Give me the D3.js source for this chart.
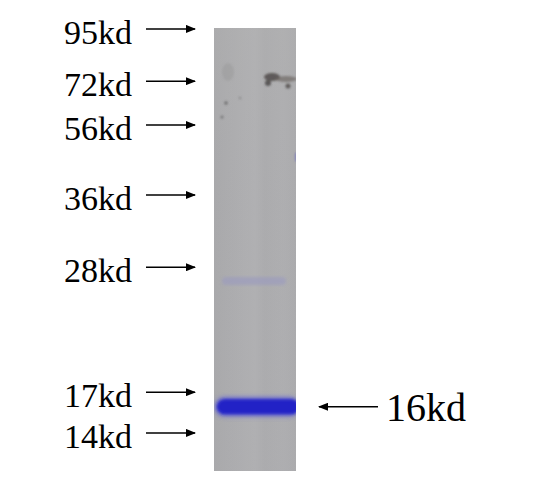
<!DOCTYPE html>
<html>
<head>
<meta charset="utf-8">
<script src="https://cdn.jsdelivr.net/npm/d3@7"></script>
<style>
  html, body { margin: 0; padding: 0; background: #ffffff; }
  svg { display: block; }
</style>
</head>
<body>
<div id="chart"></div>
<script>
// Marker ladder (labels and relative mobility along the lane, 0 = top of lane, 1 = bottom)
const markerLabels = ["95kd", "72kd", "56kd", "36kd", "28kd", "17kd", "14kd"];
const markerMobility = [0.002, 0.120, 0.219, 0.377, 0.540, 0.822, 0.914];

// Sample lane bands (relative mobility and staining intensity 0..1)
const bandMobility = [0.571, 0.855];
const bandIntensity = [0.18, 1.0];

// Target band annotation
const targetLabel = "16kd";
const targetMobility = 0.855;

const W = 554, H = 480;
const svg = d3.select("#chart").append("svg").attr("width", W).attr("height", H);
const defs = svg.append("defs");

const laneX0 = 214, laneX1 = 296, laneTop = 28, laneBottom = 471;
const y = d3.scaleLinear().domain([0, 1]).range([laneTop, laneBottom]);
const blue = d3.scaleLinear().domain([0, 1]).range(["#a9a9b8", "#2022c6"]);

// arrow marker
defs.append("marker").attr("id", "ah").attr("viewBox", "0 0 10 8")
  .attr("refX", 9).attr("refY", 4).attr("markerWidth", 10).attr("markerHeight", 8)
  .attr("markerUnits", "userSpaceOnUse").attr("orient", "auto")
  .append("path").attr("d", "M0,0 L10,4 L0,8 Z").attr("fill", "#000");

// blur filters
defs.append("filter").attr("id", "blur2").attr("x", "-20%").attr("y", "-100%").attr("width", "140%").attr("height", "300%")
  .append("feGaussianBlur").attr("stdDeviation", 1.5);
defs.append("filter").attr("id", "blur3").attr("x", "-20%").attr("y", "-200%").attr("width", "140%").attr("height", "500%")
  .append("feGaussianBlur").attr("stdDeviation", 2.4);
defs.append("filter").attr("id", "blur1").attr("x", "-50%").attr("y", "-50%").attr("width", "200%").attr("height", "200%")
  .append("feGaussianBlur").attr("stdDeviation", 1.2);

// lane gradient (horizontal subtle streaks)
const lg = defs.append("linearGradient").attr("id", "laneH").attr("x1", 0).attr("x2", 1).attr("y1", 0).attr("y2", 0);
[[0, "#a8a8aa"], [0.3, "#adadaf"], [0.5, "#b0b0b2"], [0.62, "#ababad"], [0.85, "#aeaeb0"], [1, "#aaaaac"]]
  .forEach(([o, c]) => lg.append("stop").attr("offset", o).attr("stop-color", c));
const lv = defs.append("linearGradient").attr("id", "laneV").attr("x1", 0).attr("x2", 0).attr("y1", 0).attr("y2", 1);
[[0, "#b4b4b4", 0.3], [0.4, "#b0b0b4", 0.1], [1, "#aeaeb2", 0.2]]
  .forEach(([o, c, a]) => lv.append("stop").attr("offset", o).attr("stop-color", c).attr("stop-opacity", a));

const clip = defs.append("clipPath").attr("id", "laneClip");
clip.append("rect").attr("x", laneX0).attr("y", laneTop).attr("width", laneX1 - laneX0).attr("height", laneBottom - laneTop);

const lane = svg.append("g").attr("clip-path", "url(#laneClip)");
lane.append("rect").attr("x", laneX0).attr("y", laneTop).attr("width", laneX1 - laneX0).attr("height", laneBottom - laneTop).attr("fill", "url(#laneH)");
lane.append("rect").attr("x", laneX0).attr("y", laneTop).attr("width", laneX1 - laneX0).attr("height", laneBottom - laneTop).attr("fill", "url(#laneV)");

// smudges / debris near top of lane
const smudge = lane.append("g").attr("filter", "url(#blur1)");
smudge.append("ellipse").attr("cx", 272).attr("cy", 77).attr("rx", 8).attr("ry", 4).attr("fill", "#4a4644").attr("opacity", 0.8);
smudge.append("ellipse").attr("cx", 286).attr("cy", 79).attr("rx", 11).attr("ry", 3).attr("fill", "#6a6460").attr("opacity", 0.65);
smudge.append("ellipse").attr("cx", 268).attr("cy", 83).attr("rx", 3).attr("ry", 3).attr("fill", "#3e3a38").attr("opacity", 0.75);
smudge.append("ellipse").attr("cx", 288).attr("cy", 86).attr("rx", 2.5).attr("ry", 2.5).attr("fill", "#3e3a38").attr("opacity", 0.7);
smudge.append("ellipse").attr("cx", 228).attr("cy", 72).attr("rx", 6).attr("ry", 9).attr("fill", "#8e8e90").attr("opacity", 0.35);
smudge.append("ellipse").attr("cx", 226).attr("cy", 103).attr("rx", 1.8).attr("ry", 1.8).attr("fill", "#555").attr("opacity", 0.7);
smudge.append("ellipse").attr("cx", 222).attr("cy", 117).attr("rx", 1.5).attr("ry", 1.5).attr("fill", "#555").attr("opacity", 0.6);
smudge.append("ellipse").attr("cx", 240).attr("cy", 98).attr("rx", 1.2).attr("ry", 1.2).attr("fill", "#666").attr("opacity", 0.5);
smudge.append("ellipse").attr("cx", 297).attr("cy", 157).attr("rx", 2).attr("ry", 5).attr("fill", "#6060c0").attr("opacity", 0.6);

// sample bands
bandMobility.forEach((m, i) => {
  const k = bandIntensity[i];
  if (k > 0.5) {
    lane.append("rect")
      .attr("x", laneX0 + 1).attr("width", laneX1 - laneX0 + 2)
      .attr("y", y(m) - 9.5).attr("height", 19).attr("rx", 9)
      .attr("fill", "#5a5ad8").attr("opacity", 0.8).attr("filter", "url(#blur3)");
    lane.append("rect")
      .attr("x", laneX0 + 3).attr("width", laneX1 - laneX0)
      .attr("y", y(m) - 7.5).attr("height", 15).attr("rx", 7.5)
      .attr("fill", blue(k)).attr("filter", "url(#blur2)");
  } else {
    lane.append("rect")
      .attr("x", laneX0 + 8).attr("width", laneX1 - laneX0 - 18)
      .attr("y", y(m) - 4).attr("height", 8).attr("rx", 4)
      .attr("fill", "#9a9ac0").attr("opacity", 0.6).attr("filter", "url(#blur2)");
  }
});

// marker labels and arrows
const mk = svg.append("g").selectAll("g").data(markerLabels).join("g")
  .attr("transform", (d, i) => `translate(0,${y(markerMobility[i])})`);
mk.append("text").attr("x", 64).attr("y", 15)
  .attr("font-family", "'Liberation Serif', 'Times New Roman', serif")
  .attr("font-size", 34).attr("fill", "#000").text(d => d);
mk.append("line").attr("x1", 146).attr("x2", 195).attr("y1", 0).attr("y2", 0)
  .attr("stroke", "#000").attr("stroke-width", 1.5).attr("marker-end", "url(#ah)");

// target annotation
const ty = y(targetMobility);
svg.append("line").attr("x1", 378).attr("x2", 319).attr("y1", ty).attr("y2", ty)
  .attr("stroke", "#000").attr("stroke-width", 1.5).attr("marker-end", "url(#ah)");
svg.append("text").attr("x", 386).attr("y", ty + 14)
  .attr("font-family", "'Liberation Serif', 'Times New Roman', serif")
  .attr("font-size", 40).attr("fill", "#000").text(targetLabel);
</script>
</body>
</html>
